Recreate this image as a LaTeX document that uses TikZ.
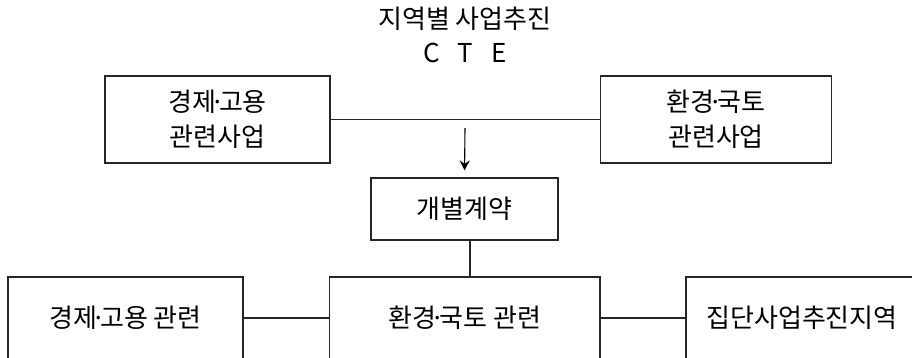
\documentclass[tikz,border=0pt]{standalone}
\usepackage{fontspec}
\setmainfont{Noto Sans CJK KR}
\usetikzlibrary{arrows.meta}
\newcommand{\mdt}{\kern-0.22em·\kern-0.22em}
\tikzset{
  box/.style={draw=black!85, line width=1.2pt, rectangle, inner sep=0pt, align=center,
    font=\fontsize{26}{35}\selectfont},
  label/.style={inner sep=0pt, align=center, font=\fontsize{26}{35}\selectfont},
  link/.style={draw=black!85, line width=1.2pt},
  arr/.style={draw=black, line width=1.1pt, -{Stealth[length=10pt,width=10pt,inset=3.5pt]}}
}
\begin{document}
\begin{tikzpicture}[x=1pt,y=-1pt]
\useasboundingbox (0,0) rectangle (912,357);
\clip (0,0) rectangle (912,357);
\node[label] (title) at (465,19) {지역별 사업추진};
\node[label] (cte) at (465,53) {C\hspace{0.7em}T\hspace{0.7em}E};
\node[box, minimum width=225pt, minimum height=87pt] (econ) at (217.5,119.5) {경제\mdt 고용\\관련사업};
\node[box, minimum width=231pt, minimum height=87pt] (env) at (716,119.5) {환경\mdt 국토\\관련사업};
\node[box, minimum width=187pt, minimum height=62pt] (contract) at (464.5,209) {개별계약};
\node[box, minimum width=235pt, minimum height=82pt] (b1) at (125.5,318) {경제\mdt 고용 관련};
\node[box, minimum width=270.5pt, minimum height=82pt] (b2) at (464.75,318) {환경\mdt 국토 관련};
\node[box, minimum width=232pt, minimum height=82pt] (b3) at (802,318) {집단사업추진지역};
\coordinate (arrS) at (465,128);
\draw[link] (econ.east) -- (env.west);
\draw[arr, shorten >=7pt] (arrS) -- (contract.north);
\draw[link] ([xshift=5.5pt]contract.south) -- ([xshift=5.25pt]b2.north);
\draw[link] (b1.east) -- (b2.west);
\draw[link] (b2.east) -- (b3.west);
\end{tikzpicture}
\end{document}
